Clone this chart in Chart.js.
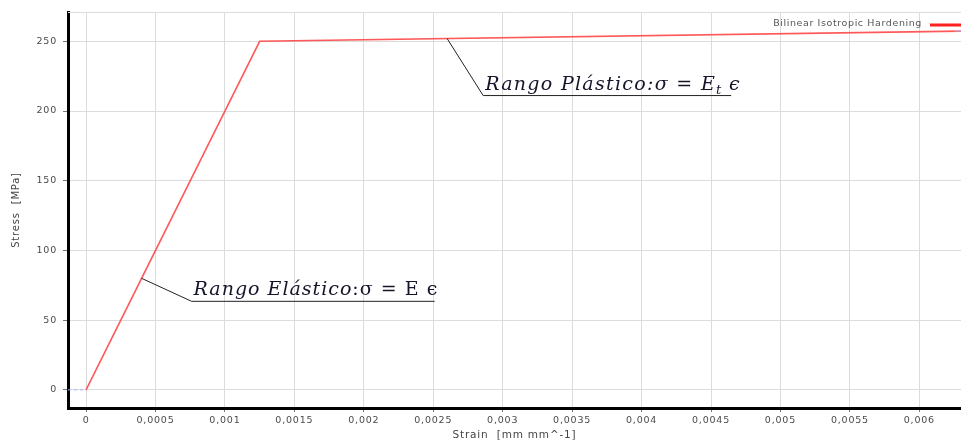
<!DOCTYPE html>
<html>
<head>
<meta charset="utf-8">
<script src="https://cdn.jsdelivr.net/npm/chart.js@4.4.1/dist/chart.umd.min.js"></script>
<style>
  html, body { margin: 0; padding: 0; background: #fff; }
  #wrap { width: 961px; height: 442px; position: relative; }
</style>
</head>
<body>
<div id="wrap"><canvas id="c" width="961" height="442"></canvas></div>
<script>
// Bilinear isotropic hardening curve (strain in mm/mm, stress in MPa)
const strain = [0, 0.00125, 0.0063];
const stress = [0, 250, 257.3];

// Dashed lead-in along zero stress
const leadStrain = [-0.00013, 0];
const leadStress = [0, 0];

const xTicks = [0, 0.0005, 0.001, 0.0015, 0.002, 0.0025, 0.003, 0.0035, 0.004, 0.0045, 0.005, 0.0055, 0.006];
const yTicks = [0, 50, 100, 150, 200, 250];

const seriesLabel = 'Bilinear Isotropic Hardening';

// Callouts pinned to a strain value on the curve; each text part: [text, style]
const calloutStrain = [0.0004, 0.0026];
const calloutText = [
  [['Rango Elástico', 'i'], [':σ = E ϵ', 'n']],
  [['Rango Plástico:σ = E', 'i'], ['t', 'sub'], [' ϵ', 'i']]
];

function stressAt(e) {
  for (let i = 1; i < strain.length; i++) {
    if (e <= strain[i]) {
      const t = (e - strain[i - 1]) / (strain[i] - strain[i - 1]);
      return stress[i - 1] + t * (stress[i] - stress[i - 1]);
    }
  }
  return stress[stress.length - 1];
}

function fmt(v) {
  return String(+v.toFixed(6)).replace('.', ',');
}

const extras = {
  id: 'extras',
  beforeDraw(chart) {
    // slightly spaced lettering for axis text
    if ('letterSpacing' in chart.ctx) chart.ctx.letterSpacing = '0.8px';
  },
  beforeDatasetsDraw(chart) {
    const { ctx, chartArea } = chart;
    ctx.save();
    ctx.strokeStyle = '#dcdcdc';
    ctx.lineWidth = 1;
    ctx.beginPath();
    ctx.moveTo(chartArea.left, chartArea.top + 0.5);
    ctx.lineTo(chartArea.right, chartArea.top + 0.5);
    ctx.stroke();
    ctx.restore();
  },
  afterDraw(chart) {
    const { ctx, chartArea } = chart;
    const xs = chart.scales.x, ys = chart.scales.y;
    ctx.save();

    // legend entry
    if ('letterSpacing' in ctx) ctx.letterSpacing = '0.6px';
    ctx.font = '9.5px "DejaVu Sans"';
    ctx.fillStyle = '#555';
    ctx.textAlign = 'right';
    ctx.textBaseline = 'middle';
    ctx.fillText(seriesLabel, 922, 24);
    ctx.strokeStyle = '#ff2020';
    ctx.lineWidth = 3;
    ctx.beginPath();
    ctx.moveTo(930, 25);
    ctx.lineTo(chartArea.right + 2, 25);
    ctx.stroke();
    ctx.strokeStyle = '#aab8ff';
    ctx.lineWidth = 1;
    ctx.beginPath();
    ctx.moveTo(955, 31);
    ctx.lineTo(961, 31);
    ctx.stroke();

    // callouts
    const elbows = [[50, 23, 243], [36, 57, 248]];
    calloutStrain.forEach((e, i) => {
      const px = xs.getPixelForValue(e);
      const py = ys.getPixelForValue(stressAt(e));
      const [dx, dy, len] = elbows[i];
      const ex = px + dx, ey = py + dy;
      ctx.strokeStyle = '#222';
      ctx.lineWidth = 1;
      ctx.beginPath();
      ctx.moveTo(px, py);
      ctx.lineTo(ex, ey);
      ctx.lineTo(ex + len, ey);
      ctx.stroke();

      let x = ex + 2;
      const base = ey - 6;
      ctx.fillStyle = '#15152a';
      ctx.textAlign = 'left';
      ctx.textBaseline = 'alphabetic';
      calloutText[i].forEach(([p, style]) => {
        if (style === 'sub') {
          ctx.font = 'italic 13px "DejaVu Serif"';
          if ('letterSpacing' in ctx) ctx.letterSpacing = '0.5px';
          ctx.fillText(p, x, base + 4);
        } else {
          ctx.font = (style === 'i' ? 'italic ' : '') + '19px "DejaVu Serif"';
          if ('letterSpacing' in ctx) ctx.letterSpacing = i === 0 ? '1px' : '1.3px';
          ctx.fillText(p, x, base);
        }
        x += ctx.measureText(p).width;
      });
    });
    if ('letterSpacing' in ctx) ctx.letterSpacing = '0px';
    ctx.restore();
  }
};

new Chart(document.getElementById('c'), {
  type: 'line',
  data: {
    datasets: [
      {
        label: seriesLabel,
        data: strain.map((e, i) => ({ x: e, y: stress[i] })),
        borderColor: 'rgba(255,70,70,0.9)',
        borderWidth: 1.6,
        pointRadius: 0,
        tension: 0
      },
      {
        label: 'lead',
        data: leadStrain.map((e, i) => ({ x: e, y: leadStress[i] })),
        borderColor: '#aab8ff',
        borderWidth: 1,
        borderDash: [3, 3],
        pointRadius: 0
      }
    ]
  },
  plugins: [extras],
  options: {
    responsive: false,
    animation: false,
    layout: { padding: { top: 12, right: 0, left: 0, bottom: 0 } },
    plugins: { legend: { display: false }, tooltip: { enabled: false } },
    scales: {
      x: {
        type: 'linear',
        min: -0.00013,
        max: 0.0063,
        afterBuildTicks: s => { s.ticks = xTicks.map(v => ({ value: v })); },
        afterFit: s => { s.height = 34; },
        ticks: {
          callback: v => fmt(v),
          font: { family: 'DejaVu Sans', size: 9.5 },
          color: '#4a4a4a',
          padding: 3,
          maxRotation: 0,
          autoSkip: false
        },
        grid: { color: '#dcdcdc', lineWidth: 1, tickLength: 4, tickColor: '#777' },
        border: { color: '#000', width: 3 },
        title: {
          display: true,
          text: 'Strain  [mm mm^-1]',
          font: { family: 'DejaVu Sans', size: 10.5 },
          color: '#444',
          padding: { top: 0, bottom: 0 }
        }
      },
      y: {
        type: 'linear',
        min: -13,
        max: 271,
        afterBuildTicks: s => { s.ticks = yTicks.map(v => ({ value: v })); },
        afterFit: s => { s.width = 68; },
        ticks: {
          callback: v => String(v),
          font: { family: 'DejaVu Sans', size: 9.5 },
          color: '#4a4a4a',
          padding: 6
        },
        grid: { color: '#dcdcdc', lineWidth: 1, tickLength: 5, tickColor: '#777' },
        border: { color: '#000', width: 3 },
        title: {
          display: true,
          text: 'Stress  [MPa]',
          font: { family: 'DejaVu Sans', size: 10 },
          color: '#444',
          padding: { top: 10, bottom: 0 }
        }
      }
    }
  }
});
</script>
</body>
</html>
